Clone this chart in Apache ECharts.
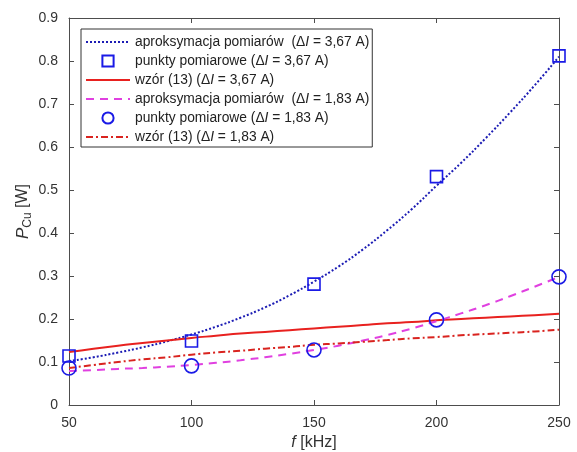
<!DOCTYPE html>
<html>
<head>
<meta charset="utf-8">
<script src="https://cdn.jsdelivr.net/npm/echarts@6/dist/echarts.min.js"></script>
<style>
html,body{margin:0;padding:0;background:#fff;}
#chart{width:577px;height:452px;}
</style>
</head>
<body>
<div id="chart"></div>
<script>
// ---- data ----
const freqFit = [50,60,70,80,90,100,110,120,130,140,150,160,170,180,190,200,210,220,230,240,250];
const fitHigh = [0.102,0.111,0.122,0.134,0.148,0.164,0.182,0.203,0.227,0.255,0.287,0.322,0.362,0.407,0.456,0.510,0.563,0.620,0.680,0.743,0.810];
const formulaHigh = [0.123,0.131,0.138,0.144,0.150,0.156,0.161,0.166,0.170,0.174,0.178,0.182,0.186,0.190,0.193,0.197,0.200,0.203,0.206,0.209,0.212];
const fitLow = [0.079,0.081,0.084,0.086,0.089,0.093,0.098,0.104,0.111,0.119,0.128,0.138,0.150,0.163,0.178,0.195,0.213,0.232,0.253,0.275,0.298];
const formulaLow = [0.086,0.093,0.100,0.106,0.111,0.117,0.122,0.126,0.131,0.135,0.140,0.143,0.147,0.151,0.155,0.158,0.162,0.165,0.168,0.171,0.175];
const freqMeas = [50,100,150,200,250];
const measHigh = [0.114,0.149,0.281,0.531,0.812];
const measLow = [0.086,0.091,0.128,0.198,0.298];
const xTicks = [50,100,150,200,250];
const yTicks = [0,0.1,0.2,0.3,0.4,0.5,0.6,0.7,0.8,0.9];

const names = [
  'aproksymacja pomiarów  (ΔI = 3,67 A)',
  'punkty pomiarowe (ΔI = 3,67 A)',
  'wzór (13) (ΔI = 3,67 A)',
  'aproksymacja pomiarów  (ΔI = 1,83 A)',
  'punkty pomiarowe (ΔI = 1,83 A)',
  'wzór (13) (ΔI = 1,83 A)'
];

const pair = (xs, ys) => xs.map((x, i) => [x, ys[i]]);
const FONT = 'Liberation Sans, Arial, sans-serif';
const AX = '#4d4d4d';
const NOFILL = 'rgba(0,0,0,0)';

const chart = echarts.init(document.getElementById('chart'), null, {renderer: 'canvas'});
const axisCommon = {
  axisLine: {show: true, onZero: false, lineStyle: {color: AX, width: 1}},
  axisTick: {show: true, inside: true, length: 5, lineStyle: {color: AX}},
  splitLine: {show: false}
};
const fitLine = (name, data, color, type, z) => ({
  name, type: 'line', data, symbol: 'none', smooth: true, z,
  lineStyle: {color, width: 2, type},
  itemStyle: {color: NOFILL, borderColor: NOFILL, borderWidth: 0}
});
const markers = (name, data, symbol, size) => ({
  name, type: 'line', data, symbol, symbolSize: size, showSymbol: true, z: 5,
  lineStyle: {width: 0, opacity: 0},
  itemStyle: {color: NOFILL, borderColor: '#1a1ae6', borderWidth: 1.6}
});
chart.setOption({
  animation: false,
  backgroundColor: '#fff',
  grid: {left: 69, right: 18, top: 18, bottom: 47, containLabel: false, outerBoundsMode: 'none'},
  xAxis: [
    Object.assign({
      type: 'value', min: xTicks[0], max: xTicks[xTicks.length-1], interval: 50,
      position: 'bottom',
      axisLabel: {color: '#333', fontSize: 14, fontFamily: FONT, margin: 11},
      name: '{i|f} [kHz]', nameLocation: 'middle', nameGap: 30, nameMoveOverlap: false,
      nameTextStyle: {color: '#333', fontSize: 16, fontFamily: FONT,
        rich: {i: {fontStyle: 'italic', fontSize: 16, fontFamily: FONT, color: '#333'}}}
    }, axisCommon),
    Object.assign({
      type: 'value', min: 50, max: 250, interval: 50, position: 'top',
      axisLabel: {show: false}
    }, axisCommon)
  ],
  yAxis: [
    Object.assign({
      type: 'value', min: yTicks[0], max: yTicks[yTicks.length-1], interval: 0.1,
      position: 'left',
      axisLabel: {color: '#333', fontSize: 14, fontFamily: FONT, margin: 11},
      name: '{i|P}{s|Cu} [W]', nameLocation: 'middle', nameGap: 35, nameRotate: 90, nameMoveOverlap: false,
      nameTextStyle: {color: '#333', fontSize: 16, fontFamily: FONT, lineHeight: 22,
        rich: {
          i: {fontStyle: 'italic', fontSize: 17, fontFamily: FONT, color: '#333', lineHeight: 22},
          s: {fontSize: 12, fontFamily: FONT, color: '#333', verticalAlign: 'bottom', lineHeight: 15, padding: [8,0,0,0]}
        }}
    }, axisCommon),
    Object.assign({
      type: 'value', min: 0, max: 0.9, interval: 0.1, position: 'right',
      axisLabel: {show: false}
    }, axisCommon)
  ],
  legend: {
    orient: 'vertical', left: 81, top: 29,
    padding: [6, 3, 3, 4], itemGap: 5,
    itemWidth: 44, itemHeight: 14,
    backgroundColor: '#fff', borderColor: '#333', borderWidth: 1,
    data: names,
    formatter: n => n.replace('ΔI', 'Δ{i|I}'),
    textStyle: {fontSize: 13.8, lineHeight: 14, fontFamily: FONT, color: '#222',
      rich: {i: {fontStyle: 'italic', fontSize: 13.8, lineHeight: 14, fontFamily: FONT, color: '#222'}}}
  },
  series: [
    fitLine(names[0], pair(freqFit, fitHigh), '#1c1cb4', [2, 2], 2),
    markers(names[1], pair(freqMeas, measHigh), 'rect', 12),
    fitLine(names[2], pair(freqFit, formulaHigh), '#e8211f', 'solid', 2),
    fitLine(names[3], pair(freqFit, fitLow), '#e040e0', [8, 6], 2),
    markers(names[4], pair(freqMeas, measLow), 'circle', 14),
    fitLine(names[5], pair(freqFit, formulaLow), '#d9231f', [7, 3, 2, 3], 2)
  ]
});
</script>
</body>
</html>
